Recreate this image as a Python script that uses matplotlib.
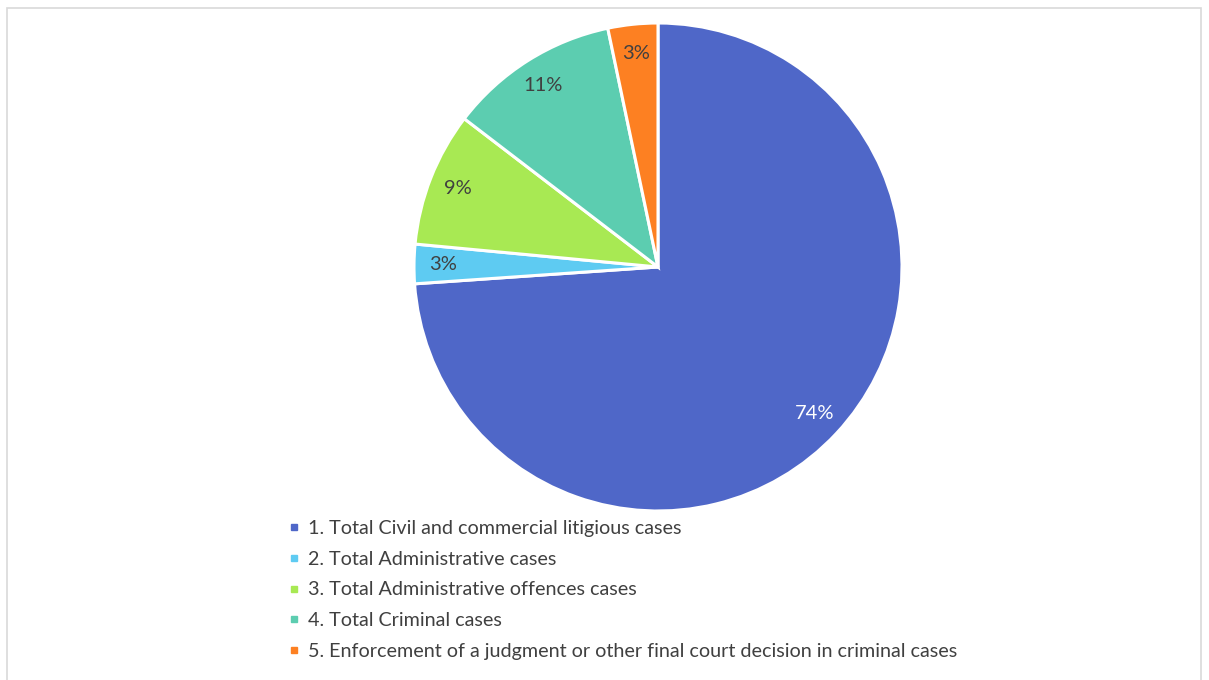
import matplotlib.pyplot as plt
from matplotlib.lines import Line2D
from matplotlib.patches import Rectangle

# Data
categories = [
    "1. Total Civil and commercial litigious cases",
    "2. Total Administrative cases",
    "3. Total Administrative offences cases",
    "4. Total Criminal cases",
    "5. Enforcement of a judgment or other final court decision in criminal cases",
]
shares = [73.9, 2.6, 8.9, 11.3, 3.3]
colors = ["#4f67c8", "#5ecbf2", "#a8e953", "#5ccdb0", "#fd8022"]
label_colors = ["white", "#404040", "#404040", "#404040", "#404040"]

plt.rcParams['font.family'] = ['Lato', 'DejaVu Sans']

W, H = 1209, 680
fig = plt.figure(figsize=(W / 100, H / 100), dpi=100)

# light grey frame around the chart area
fig.patches.append(Rectangle((7 / W, -0.01), (1201 - 7) / W, 1 - 8 / H + 0.01,
                             transform=fig.transFigure, fill=False,
                             edgecolor="#d9d9d9", linewidth=1.2))

cx, cy, r = 658, 267, 244
ax = fig.add_axes([(cx - r) / W, (H - cy - r) / H, 2 * r / W, 2 * r / H])

wedges, texts, autotexts = ax.pie(
    shares, colors=colors, startangle=90, counterclock=False,
    autopct="%1.0f%%", pctdistance=0.88,
    wedgeprops=dict(edgecolor="white", linewidth=2.2),
    textprops=dict(fontsize=14.5),
)
for t, c in zip(autotexts, label_colors):
    t.set_color(c)
ax.set_xlim(-1, 1)
ax.set_ylim(-1, 1)
ax.set_aspect("equal")

handles = [Line2D([], [], marker="s", linestyle="none", markersize=5,
                  markerfacecolor=c, markeredgecolor=c) for c in colors]
fig.legend(handles, categories, loc="upper left",
           bbox_to_anchor=(278 / W, 1 - 510 / H), frameon=False,
           fontsize=14.2, labelcolor="#404040", handlelength=0.6,
           handletextpad=0.4, labelspacing=0.7, borderpad=0)

fig.savefig("out.png", dpi=100)
